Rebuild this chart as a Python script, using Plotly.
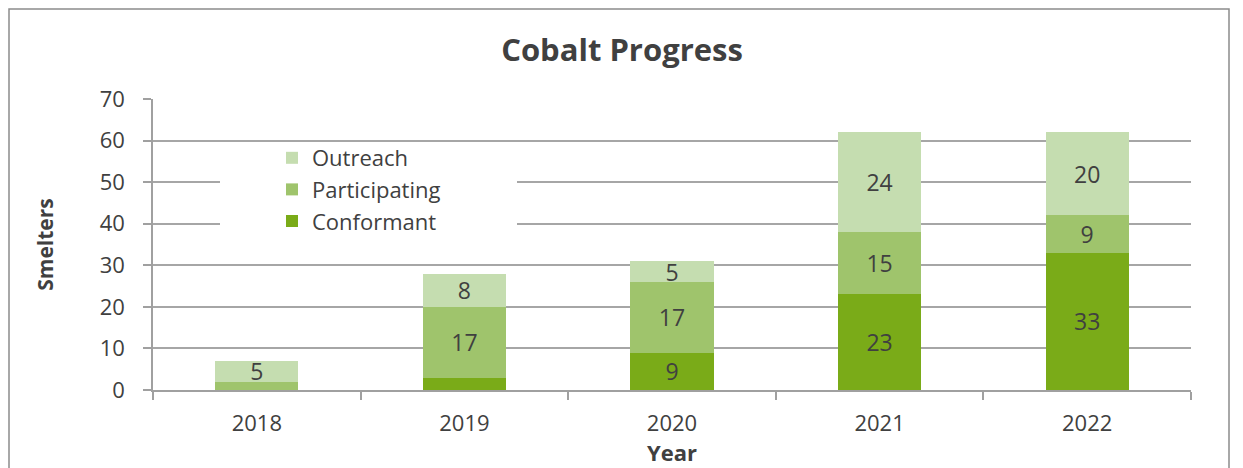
import plotly.graph_objects as go

years = ["2018", "2019", "2020", "2021", "2022"]
conformant = [0, 3, 9, 23, 33]
participating = [2, 17, 17, 15, 9]
outreach = [5, 8, 5, 24, 20]
y_ticks = [0, 10, 20, 30, 40, 50, 60, 70]

colors = {"Conformant": "#7aab18", "Participating": "#9fc46c", "Outreach": "#c5ddb0"}
FONT = "Open Sans"
TXT = "#404040"

def labels(vals):
    return [str(v) if v >= 5 else "" for v in vals]

fig = go.Figure()
for name, vals in [("Conformant", conformant), ("Participating", participating), ("Outreach", outreach)]:
    fig.add_trace(go.Bar(
        x=years, y=vals, name=name, marker=dict(color=colors[name], line=dict(width=0)),
        text=labels(vals), textposition="inside", insidetextanchor="middle",
        textfont=dict(family=FONT, size=23, color=TXT), textangle=0, constraintext="none",
        hoverinfo="x+y+name",
    ))

# figure pixel coords (page has 8px body offset)
W, H = 1235, 460
L, R, T, B = 145, 1183, 91, 382
pw, ph = R - L, B - T
px = lambda x: (x - L) / pw
py = lambda y: (B - y) / ph

fig.update_layout(
    width=W, height=H,
    margin=dict(l=L, r=W - R, t=T, b=H - B, pad=0, autoexpand=False),
    barmode="stack", bargap=0.6,
    paper_bgcolor="white", plot_bgcolor="white",
    font=dict(family=FONT, color=TXT),
    title=dict(text="<b>Cobalt Progress</b>", x=614 / W, xref="container", xanchor="center",
               y=1 - 42 / H, yref="container", yanchor="middle", font=dict(size=31, family=FONT, color=TXT)),
    showlegend=True,
    legend=dict(x=px(264), y=py(129), xanchor="left", yanchor="top", traceorder="reversed",
                bgcolor="rgba(0,0,0,0)", font=dict(size=22, family=FONT, color=TXT),
                tracegroupgap=0, itemwidth=30),
    uniformtext=dict(mode="show", minsize=23),
    shapes=[
        dict(type="rect", xref="paper", yref="paper", x0=px(212), x1=px(509), y0=py(226), y1=py(137),
             fillcolor="white", line=dict(width=0), layer="above"),
        dict(type="rect", xref="paper", yref="paper", x0=px(1), x1=px(1221), y0=py(480), y1=py(1),
             fillcolor="rgba(0,0,0,0)", line=dict(color="#8c8c8c", width=1.5), layer="above"),
    ],
)
fig.update_xaxes(
    type="category", tickson="boundaries", ticks="outside", ticklen=8, tickcolor="#a0a0a0",
    tickwidth=1.5, showline=True, linecolor="#a0a0a0", linewidth=1.5, showgrid=False,
    tickfont=dict(size=22, family=FONT, color=TXT), ticklabelstandoff=13, automargin=False,
    title=dict(text="<b>Year</b>", font=dict(size=22, family=FONT, color=TXT), standoff=8),
)
fig.update_yaxes(
    range=[0, 70], tickvals=y_ticks, ticks="outside", ticklen=8, tickcolor="#a0a0a0", tickwidth=1.5,
    showline=True, linecolor="#a0a0a0", linewidth=1.5, showgrid=True, gridcolor="#a6a6a6", gridwidth=1.5,
    zeroline=False, tickfont=dict(size=22, family=FONT, color=TXT), ticklabelstandoff=14, automargin=False,
    title=dict(text="<b>Smelters</b>", font=dict(size=21, family=FONT, color=TXT), standoff=40),
)
fig.write_html("out.html")
